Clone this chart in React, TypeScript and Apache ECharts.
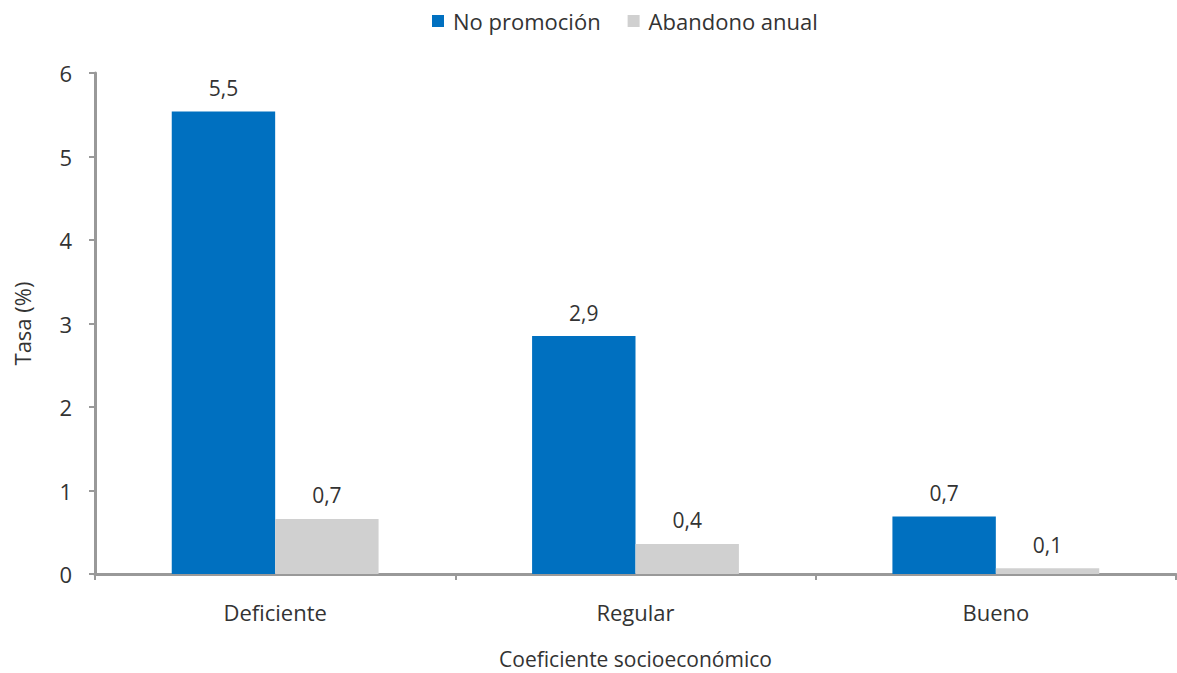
import React, { useEffect, useRef } from "react";
import * as echarts from "echarts";

const categories = ["Deficiente", "Regular", "Bueno"];
const noPromocion = [5.54, 2.85, 0.69];
const abandonoAnual = [0.66, 0.36, 0.07];
const seriesNames = ["No promoción", "Abandono anual"];
const yTicks = [0, 1, 2, 3, 4, 5, 6];

const FONT = "'Open Sans', 'Noto Sans', sans-serif";
const fmt = (v: number) => v.toFixed(1).replace(".", ",");

export default function App() {
  const ref = useRef<HTMLDivElement>(null);
  useEffect(() => {
    if (!ref.current) return;
    const chart = echarts.init(ref.current, null, { renderer: "svg" });
    const labelCfg = {
      show: true,
      position: "top",
      distance: 13,
      color: "#333",
      fontSize: 21,
      fontFamily: FONT,
      formatter: (p: any) => fmt(p.value),
    };
    chart.setOption({
      animation: false,
      textStyle: { fontFamily: FONT },
      legend: {
        top: 10,
        left: 432,
        itemWidth: 12,
        itemHeight: 12,
        itemGap: 27,
        padding: 0,
        icon: "rect",
        textStyle: { fontSize: 22, color: "#333", fontFamily: FONT, padding: [0, 0, 0, 4] },
        data: seriesNames,
      },
      grid: {
        left: 95,
        right: 1,
        top: 73,
        bottom: 99,
        containLabel: false,
        outerBoundsMode: "none",
      },
      xAxis: {
        type: "category",
        data: categories,
        name: "Coeficiente socioeconómico",
        nameLocation: "middle",
        nameGap: 74,
        nameTextStyle: { fontSize: 21, color: "#333", fontFamily: FONT, lineHeight: 22 },
        axisLine: { lineStyle: { color: "#999", width: 3 } },
        axisTick: { show: true, length: 6, lineStyle: { color: "#999", width: 2 } },
        axisLabel: { fontSize: 22, color: "#333", margin: 27, fontFamily: FONT },
      },
      yAxis: {
        type: "value",
        min: yTicks[0],
        max: yTicks[yTicks.length - 1],
        interval: 1,
        name: "Tasa (%)",
        nameLocation: "middle",
        nameGap: 62,
        nameRotate: 90,
        nameTextStyle: { fontSize: 22, color: "#333", fontFamily: FONT },
        axisLine: { show: true, lineStyle: { color: "#999", width: 3 } },
        axisTick: { show: true, length: 6, lineStyle: { color: "#999", width: 2 } },
        axisLabel: { fontSize: 22, color: "#333", margin: 23, fontFamily: FONT },
        splitLine: { show: false },
      },
      series: [
        {
          name: seriesNames[0],
          type: "bar",
          data: noPromocion,
          barGap: "0%",
          barCategoryGap: "42.6%",
          itemStyle: { color: "#0070c0" },
          label: labelCfg,
        },
        {
          name: seriesNames[1],
          type: "bar",
          data: abandonoAnual,
          barGap: "0%",
          barCategoryGap: "42.6%",
          itemStyle: { color: "#d0d0d0" },
          label: labelCfg,
        },
      ],
    });
    return () => chart.dispose();
  }, []);
  return (
    <div
      ref={ref}
      style={{ position: "fixed", left: 0, top: 0, width: 1177, height: 673, background: "#fff" }}
    />
  );
}
